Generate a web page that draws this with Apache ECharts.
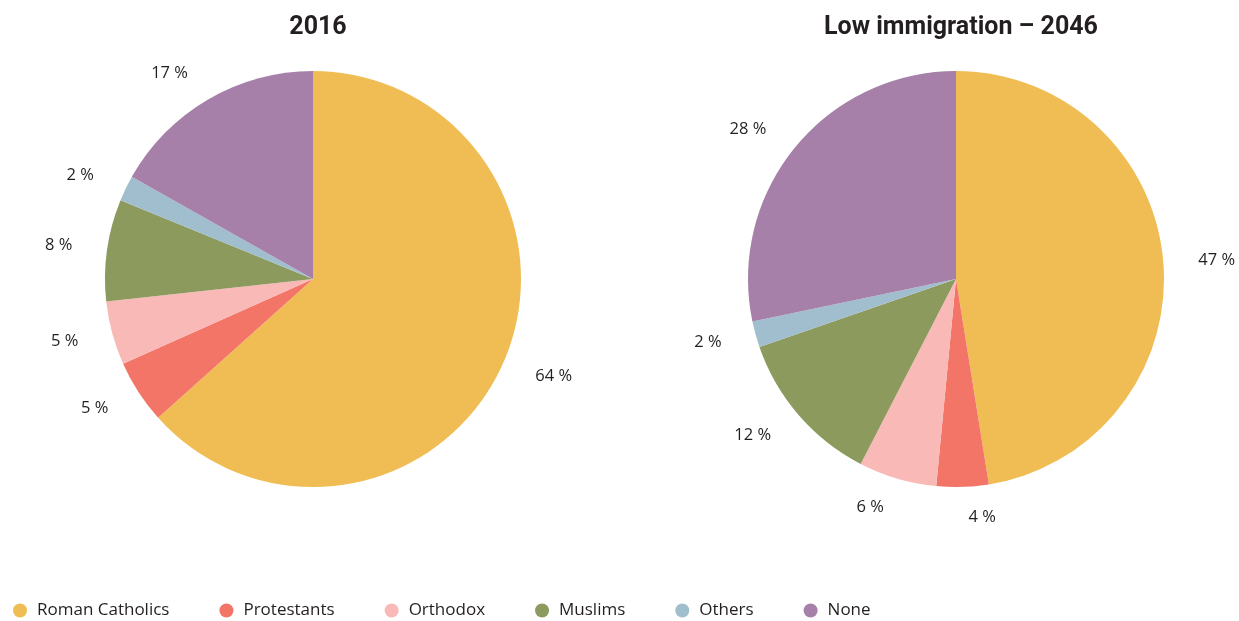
<!DOCTYPE html>
<html>
<head>
<meta charset="utf-8">
<script src="https://cdn.jsdelivr.net/npm/echarts@6/dist/echarts.min.js"></script>
<style>
  html, body { margin: 0; padding: 0; background: #ffffff; }
  #chart { width: 1239px; height: 621px; }
</style>
</head>
<body>
<div id="chart"></div>
<script>
// Religious composition, shares in percent
const categories = ['Roman Catholics', 'Protestants', 'Orthodox', 'Muslims', 'Others', 'None'];
const values2016 = [64, 5, 5, 8, 2, 17];
const valuesLow2046 = [47, 4, 6, 12, 2, 28];
const titles = ['2016', 'Low immigration \u2013 2046'];
const colors = ['#f0bd55', '#f27567', '#f9b9b6', '#8c9a5e', '#a1becf', '#a680a8'];

const textColor = '#231f20';
const bodyFont = '"Open Sans", "Noto Sans", sans-serif';

function pieSeries(name, values, center) {
  return {
    name: name,
    type: 'pie',
    center: center,
    radius: 208,
    startAngle: 90,
    clockwise: true,
    avoidLabelOverlap: false,
    silent: true,
    data: categories.map((c, i) => ({ name: c, value: values[i] })),
    itemStyle: { borderWidth: 0 },
    label: {
      show: true,
      position: 'outside',
      formatter: p => p.value + ' %',
      color: textColor,
      fontFamily: bodyFont,
      fontSize: 16.5
    },
    labelLine: { show: false, length: 30, length2: 0 },
    emphasis: { disabled: true }
  };
}

const chart = echarts.init(document.getElementById('chart'), null, { renderer: 'canvas' });
chart.setOption({
  animation: false,
  color: colors,
  title: [
    { text: titles[0], left: 313, top: 10, textAlign: 'center',
      textStyle: { fontFamily: 'Roboto, sans-serif', fontWeight: 'bold', fontSize: 25, color: textColor } },
    { text: titles[1], left: 956, top: 10, textAlign: 'center',
      textStyle: { fontFamily: 'Roboto, sans-serif', fontWeight: 'bold', fontSize: 25, color: textColor } }
  ],
  legend: {
    data: categories,
    left: 8,
    top: 597,
    icon: 'circle',
    itemWidth: 14,
    itemHeight: 14,
    itemGap: 50,
    textStyle: { fontFamily: bodyFont, fontSize: 17, color: textColor, padding: [0, 0, 0, 5] },
    selectedMode: false
  },
  series: [
    pieSeries(titles[0], values2016, [313, 279]),
    pieSeries(titles[1], valuesLow2046, [956, 279])
  ]
});
</script>
</body>
</html>
